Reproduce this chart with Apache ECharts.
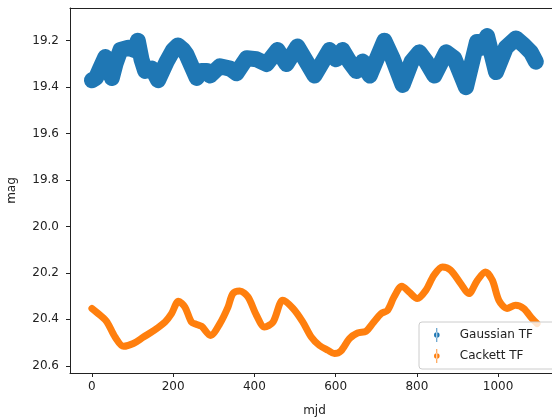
<!DOCTYPE html>
<html>
<head>
<meta charset="utf-8">
<script src="https://cdn.jsdelivr.net/npm/echarts@6/dist/echarts.min.js"></script>
<style>
  html, body { margin: 0; padding: 0; background: #fff; }
  #chart { width: 552px; height: 419px; }
</style>
</head>
<body>
<div id="chart"></div>
<script>
// Gaussian TF (blue band)
const gaussMjd = [0, 10, 20, 33, 42, 49, 58, 70, 90, 105, 113, 122, 131, 148, 163, 184, 200, 212, 225, 233,
  258, 270, 283, 291, 315, 340, 356, 381, 405, 430, 457, 479, 506, 528, 548, 585, 601, 617, 634, 651,
  659, 667, 684, 720, 740, 765, 787, 806, 823, 843, 872, 892, 921, 948, 961, 973, 995, 1019, 1044, 1064,
  1081, 1093];
const gaussMag = [19.37, 19.36, 19.32, 19.27, 19.31, 19.36, 19.30, 19.24, 19.23, 19.24, 19.20, 19.28, 19.33, 19.32, 19.37, 19.29, 19.24, 19.22, 19.24, 19.26,
  19.36, 19.33, 19.33, 19.35, 19.31, 19.32, 19.34, 19.275, 19.28, 19.30, 19.24, 19.30, 19.225, 19.29, 19.35, 19.24, 19.28, 19.24, 19.29, 19.33,
  19.32, 19.29, 19.35, 19.20, 19.275, 19.39, 19.29, 19.25, 19.29, 19.35, 19.25, 19.275, 19.40, 19.205, 19.23, 19.18, 19.335, 19.23, 19.19, 19.22,
  19.25, 19.29];

// Cackett TF (orange line)
const cackMjd = [0, 20, 37, 57, 78, 102, 127, 151, 180, 196, 213, 229, 245, 258, 270, 292, 315, 335, 347, 364,
  384, 405, 425, 446, 470, 495, 519, 540, 560, 581, 597, 613, 634, 654, 675, 691, 712, 728, 744, 763,
  781, 801, 822, 842, 863, 883, 908, 928, 949, 969, 986, 1002, 1022, 1043, 1063, 1084, 1096];
const cackMag = [20.353, 20.382, 20.411, 20.476, 20.516, 20.504, 20.476, 20.45, 20.411, 20.375, 20.322, 20.347, 20.411, 20.422, 20.43, 20.469, 20.418, 20.347, 20.289, 20.278,
  20.303, 20.382, 20.433, 20.411, 20.318, 20.353, 20.411, 20.476, 20.512, 20.533, 20.547, 20.536, 20.483, 20.459, 20.451, 20.418, 20.375, 20.361, 20.303, 20.257,
  20.282, 20.31, 20.275, 20.21, 20.174, 20.188, 20.246, 20.289, 20.232, 20.196, 20.232, 20.318, 20.353, 20.339, 20.353, 20.397, 20.418];

const xTicks = [0, 200, 400, 600, 800, 1000];
const yTicks = [19.2, 19.4, 19.6, 19.8, 20.0, 20.2, 20.4, 20.6];

const pairs = (xs, ys) => xs.map((x, i) => [x, ys[i]]);

const textColor = '#222';
const font = 'DejaVu Sans';
// errorbar-like legend marker: thin vertical bar with a dot
const barIcon = 'path://M3.4,0 L4.6,0 L4.6,20 L3.4,20 Z M0,10 a4,4 0 1,0 8,0 a4,4 0 1,0 -8,0 Z';

const chart = echarts.init(document.getElementById('chart'));

const option = {
  animation: false,
  backgroundColor: '#fff',
  textStyle: { fontFamily: font },
  grid: {
    left: 70,
    top: 8,
    width: 489,
    height: 365,
    outerBoundsMode: 'none',
    containLabel: false
  },
  legend: {
    orient: 'vertical',
    left: 419,
    top: 322,
    itemWidth: 6,
    itemHeight: 14,
    itemGap: 7,
    padding: [6, 30, 6, 15],
    backgroundColor: 'rgba(255,255,255,0.8)',
    borderColor: '#ccc',
    borderWidth: 1,
    borderRadius: 3,
    textStyle: { fontFamily: font, fontSize: 12, color: textColor, padding: [0, 0, 0, 15] },
    data: [
      { name: 'Gaussian TF', icon: barIcon, itemStyle: { color: '#1f77b4' } },
      { name: 'Cackett TF', icon: barIcon, itemStyle: { color: '#ff7f0e' } }
    ]
  },
  xAxis: [
    {
      type: 'value',
      min: -54,
      max: 1150,
      name: 'mjd',
      nameLocation: 'middle',
      nameGap: 32,
      nameTextStyle: { fontFamily: font, fontSize: 12, color: textColor },
      axisLine: { show: true, onZero: false, lineStyle: { color: '#222', width: 1 } },
      axisTick: { show: true, length: 4, customValues: xTicks, lineStyle: { color: '#222' } },
      axisLabel: {
        customValues: xTicks,
        margin: 8,
        fontFamily: font,
        fontSize: 12,
        color: textColor,
        formatter: (v) => String(v)
      },
      splitLine: { show: false }
    },
    {
      // top frame line
      type: 'value',
      position: 'top',
      min: -54,
      max: 1150,
      axisLine: { show: true, onZero: false, lineStyle: { color: '#222', width: 1 } },
      axisTick: { show: false },
      axisLabel: { show: false },
      splitLine: { show: false }
    }
  ],
  yAxis: {
    type: 'value',
    inverse: true,
    min: 19.059,
    max: 20.631,
    name: 'mag',
    nameLocation: 'middle',
    nameGap: 52,
    nameRotate: 90,
    nameTextStyle: { fontFamily: font, fontSize: 12, color: textColor },
    axisLine: { show: true, onZero: false, lineStyle: { color: '#222', width: 1 } },
    axisTick: { show: true, length: 4, customValues: yTicks, lineStyle: { color: '#222' } },
    axisLabel: {
      customValues: yTicks,
      margin: 11,
      fontFamily: font,
      fontSize: 12,
      color: textColor,
      formatter: (v) => v.toFixed(1)
    },
    splitLine: { show: false }
  },
  series: [
    {
      name: 'Gaussian TF',
      type: 'line',
      data: pairs(gaussMjd, gaussMag),
      showSymbol: false,
      lineStyle: { color: '#1f77b4', width: 16, join: 'round', cap: 'round' },
      itemStyle: { color: '#1f77b4' },
      z: 2
    },
    {
      name: 'Cackett TF',
      type: 'line',
      data: pairs(cackMjd, cackMag),
      showSymbol: false,
      smooth: 0.3,
      lineStyle: { color: '#ff7f0e', width: 7, join: 'round', cap: 'round' },
      itemStyle: { color: '#ff7f0e' },
      z: 3
    }
  ]
};

chart.setOption(option);
</script>
</body>
</html>
